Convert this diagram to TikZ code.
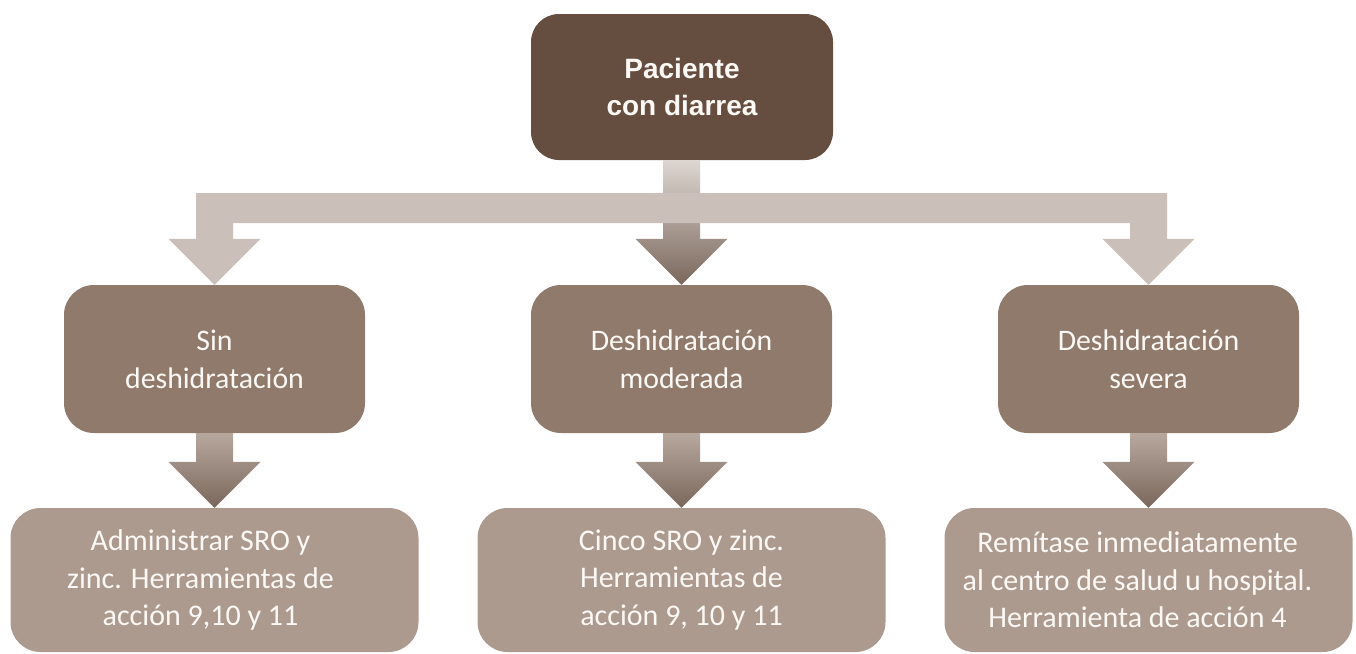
\documentclass[tikz,border=0pt]{standalone}
\usepackage{fontspec}
\setmainfont{Carlito}
\newfontfamily\headfont{Liberation Sans}
\usetikzlibrary{calc,positioning}
\definecolor{topbrown}{HTML}{654E3F}
\definecolor{midbrown}{HTML}{8F7A6B}
\definecolor{lowbrown}{HTML}{AC9A8E}
\definecolor{armgray}{HTML}{CBC0B9}
\definecolor{arrowlight}{HTML}{DDD6D1}
\definecolor{arrowmid}{HTML}{B7A89E}
\definecolor{arrowdark}{HTML}{7A675B}
\definecolor{boxtext}{HTML}{FBF8F5}
\tikzset{
    topbox/.style={rounded corners=28pt,fill=topbrown,text=boxtext,align=center,inner sep=0pt,
      minimum width=302pt,minimum height=146pt,font=\headfont\bfseries\fontsize{28}{37}\selectfont},
    levelbox/.style={rounded corners=30pt,fill=midbrown,text=boxtext,align=center,inner sep=0pt,
      minimum width=301pt,minimum height=148pt,font=\fontsize{29.8}{38}\selectfont},
    actionbox/.style={rounded corners=30pt,fill=lowbrown,inner sep=0pt,
      minimum width=408pt,minimum height=144pt},
    actiontext/.style={text=boxtext,align=center,inner sep=0pt,font=\fontsize{30}{37.5}\selectfont},
    armfill/.style={fill=armgray}
}
% block arrow from one box down to the next
\newcommand{\blockarrow}[3]{%
  \path[top color=#3,bottom color=arrowdark]
    ($(#2.north|-#1.south)+(-18.5,0)$) -- ($(#2.north)+(-18.5,-46)$) -- ($(#2.north)+(-46,-46)$)
    -- (#2.north) -- ($(#2.north)+(46,-46)$) -- ($(#2.north)+(18.5,-46)$)
    -- ($(#2.north|-#1.south)+(18.5,0)$) -- cycle;
}

\begin{document}
\begin{tikzpicture}[x=1pt,y=-1pt]
  \useasboundingbox (0,0) rectangle (1356,653);

  \node[topbox] (paciente) at (682,87) {Paciente\\con diarrea};

  \node[levelbox] (sin)      at (214.5,359) {Sin\\deshidratación};
  \node[levelbox] (moderada) at (681.5,359) {Deshidratación\\moderada};
  \node[levelbox] (severa)   at (1148.5,359) {Deshidratación\\severa};

  \node[actionbox,label={[actiontext,xshift=-14pt]center:{Administrar SRO y\\zinc. Herramientas de\\acción 9,10 y 11}}]
    (sinaccion) at (214.5,580) {};
  \node[actionbox,label={[actiontext]center:{Cinco SRO y zinc.\\Herramientas de\\acción 9, 10 y 11}}]
    (modaccion) at (681.5,580) {};
  \node[actionbox,label={[actiontext,xshift=-11pt]center:{Remítase inmediatamente\\al centro de salud u hospital.\\Herramienta de acción 4}}]
    (sevaccion) at (1148.5,580) {};

  % central arrow, then the side branches over it
  \blockarrow{paciente}{moderada}{arrowlight}
  \coordinate (bartop) at (0,193);
  \fill[armfill]
    ($(sin.north|-bartop)+(-18.5,0)$) -- ($(severa.north|-bartop)+(18.5,0)$)
    -- ($(severa.north)+(18.5,-46)$) -- ($(severa.north)+(46,-46)$) -- (severa.north)
    -- ($(severa.north)+(-46,-46)$) -- ($(severa.north)+(-18.5,-46)$)
    -- ($(severa.north|-bartop)+(-18.5,30)$) -- ($(sin.north|-bartop)+(18.5,30)$)
    -- ($(sin.north)+(18.5,-46)$) -- ($(sin.north)+(46,-46)$) -- (sin.north)
    -- ($(sin.north)+(-46,-46)$) -- ($(sin.north)+(-18.5,-46)$) -- cycle;

  % arrows to the actions
  \blockarrow{sin}{sinaccion}{arrowmid}
  \blockarrow{moderada}{modaccion}{arrowmid}
  \blockarrow{severa}{sevaccion}{arrowmid}
\end{tikzpicture}
\end{document}
